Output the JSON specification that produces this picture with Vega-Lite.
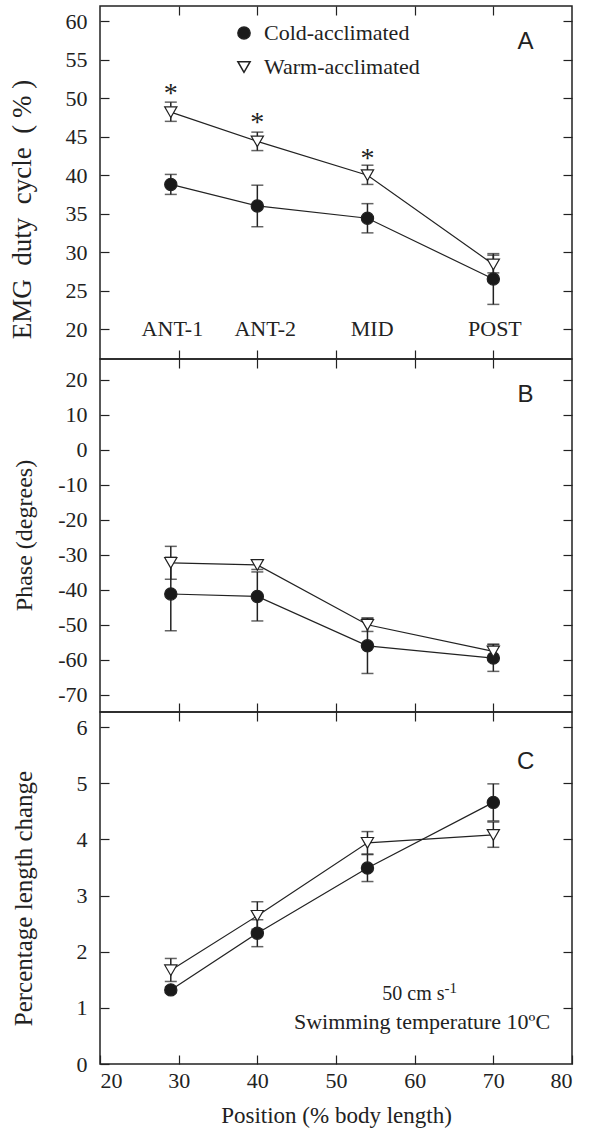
{
  "$schema": "https://vega.github.io/schema/vega-lite/v6.json",
  "padding": {"left": 7, "top": 4, "right": 5, "bottom": 5},
  "spacing": 0,
  "bounds": "flush",
  "config": {
    "view": {"stroke": "#222", "strokeWidth": 1.5},
    "font": "Liberation Serif",
    "axis": {"labelFont": "Liberation Serif", "titleFont": "Liberation Serif", "titleFontWeight": "normal", "labelColor": "#222", "titleColor": "#222", "tickColor": "#222", "tickWidth": 1.2, "domain": false, "grid": false}
  },
  "datasets": {
    "A": [
      {"group": "Cold-acclimated", "x": 29, "y": 38.8, "lo": 37.5, "hi": 40.1},
      {"group": "Cold-acclimated", "x": 40, "y": 36.0, "lo": 33.3, "hi": 38.7},
      {"group": "Cold-acclimated", "x": 54, "y": 34.4, "lo": 32.5, "hi": 36.3},
      {"group": "Cold-acclimated", "x": 70, "y": 26.5, "lo": 23.2, "hi": 29.8},
      {"group": "Warm-acclimated", "x": 29, "y": 48.2, "lo": 47.0, "hi": 49.5},
      {"group": "Warm-acclimated", "x": 40, "y": 44.4, "lo": 43.2, "hi": 45.6},
      {"group": "Warm-acclimated", "x": 54, "y": 40.0, "lo": 38.8, "hi": 41.3},
      {"group": "Warm-acclimated", "x": 70, "y": 28.4, "lo": 27.3, "hi": 29.6}
    ],
    "B": [
      {"group": "Cold-acclimated", "x": 29, "y": -41.2, "lo": -51.7, "hi": -30.7},
      {"group": "Cold-acclimated", "x": 40, "y": -41.9, "lo": -48.9, "hi": -34.9},
      {"group": "Cold-acclimated", "x": 54, "y": -56.0, "lo": -63.9, "hi": -48.1},
      {"group": "Cold-acclimated", "x": 70, "y": -59.5, "lo": -63.3, "hi": -55.7},
      {"group": "Warm-acclimated", "x": 29, "y": -32.3, "lo": -37.0, "hi": -27.6},
      {"group": "Warm-acclimated", "x": 40, "y": -32.9, "lo": -34.2, "hi": -31.6},
      {"group": "Warm-acclimated", "x": 54, "y": -50.0, "lo": -51.9, "hi": -48.1},
      {"group": "Warm-acclimated", "x": 70, "y": -57.6, "lo": -59.7, "hi": -55.5}
    ],
    "C": [
      {"group": "Cold-acclimated", "x": 29, "y": 1.32, "lo": 1.27, "hi": 1.37},
      {"group": "Cold-acclimated", "x": 40, "y": 2.33, "lo": 2.09, "hi": 2.57},
      {"group": "Cold-acclimated", "x": 54, "y": 3.49, "lo": 3.25, "hi": 3.73},
      {"group": "Cold-acclimated", "x": 70, "y": 4.66, "lo": 4.33, "hi": 4.99},
      {"group": "Warm-acclimated", "x": 29, "y": 1.67, "lo": 1.47, "hi": 1.88},
      {"group": "Warm-acclimated", "x": 40, "y": 2.64, "lo": 2.40, "hi": 2.89},
      {"group": "Warm-acclimated", "x": 54, "y": 3.94, "lo": 3.74, "hi": 4.14},
      {"group": "Warm-acclimated", "x": 70, "y": 4.08, "lo": 3.86, "hi": 4.31}
    ],
    "starsA": [
      {"x": 29, "y": 49.55, "t": "*"},
      {"x": 40, "y": 45.77, "t": "*"},
      {"x": 54, "y": 41.13, "t": "*"}
    ],
    "catsA": [
      {"x": 29.2, "y": 19.05, "t": "ANT-1"},
      {"x": 41.0, "y": 19.05, "t": "ANT-2"},
      {"x": 54.6, "y": 19.05, "t": "MID"},
      {"x": 70.2, "y": 19.05, "t": "POST"}
    ],
    "letterA": [{"x": 74.1, "y": 56.36, "t": "A"}],
    "letterB": [{"x": 74.1, "y": 13.54, "t": "B"}],
    "letterC": [{"x": 74.1, "y": 5.26, "t": "C"}],
    "speedC": [{"x": 55.88, "y": 1.146, "t": "50 cm s"}],
    "tempC": [{"x": 44.66, "y": 0.624, "t": "Swimming temperature 10ºC"}],
    "supC": [{"x": 63.8, "y": 1.27, "t": "-1"}]
  },
  "vconcat": [
    {
      "width": 472, "height": 353,
      "resolve": {"axis": {"x": "independent", "y": "independent"}},
      "layer": [
        {
          "data": {"name": "A"},
          "mark": {"type": "rule", "color": "#222", "strokeWidth": 1.5},
          "encoding": {
            "x": {"field": "x", "type": "quantitative", "scale": {"domain": [20, 80], "nice": false, "zero": false},
                  "axis": {"orient": "bottom", "values": [30, 40, 50, 60, 70], "labels": false, "tickSize": -9, "title": null}},
            "y": {"field": "lo", "type": "quantitative", "scale": {"domain": [16.1, 62], "nice": false, "zero": false},
                  "axis": {"orient": "left", "values": [20, 25, 30, 35, 40, 45, 50, 55, 60], "tickSize": -9, "labelPadding": 22, "labelFontSize": 22, "title": "EMG\u00a0 duty\u00a0 cycle\u00a0 (\u00a0%\u00a0)", "titleFontSize": 27, "titleX": -64, "titleY": 203}},
            "y2": {"field": "hi"}
          }
        },
        {
          "data": {"name": "A"},
          "mark": {"type": "tick", "orient": "horizontal", "size": 12, "thickness": 1.5, "color": "#222"},
          "encoding": {"x": {"field": "x", "type": "quantitative", "axis": null}, "y": {"field": "lo", "type": "quantitative", "axis": null}}
        },
        {
          "data": {"name": "A"},
          "mark": {"type": "tick", "orient": "horizontal", "size": 12, "thickness": 1.5, "color": "#222"},
          "encoding": {"x": {"field": "x", "type": "quantitative", "axis": null}, "y": {"field": "hi", "type": "quantitative", "axis": null}}
        },
        {
          "data": {"name": "A"},
          "mark": {"type": "line", "color": "#222", "strokeWidth": 1.2},
          "encoding": {
            "x": {"field": "x", "type": "quantitative", "axis": {"orient": "top", "values": [30, 40, 50, 60, 70], "labels": false, "tickSize": -9, "title": null}},
            "y": {"field": "y", "type": "quantitative", "axis": {"orient": "right", "values": [20, 25, 30, 35, 40, 45, 50, 55, 60], "labels": false, "tickSize": -9, "title": null}},
            "detail": {"field": "group"}
          }
        },
        {
          "data": {"name": "A"},
          "mark": {"type": "point", "filled": true, "size": 150, "stroke": "#222", "strokeWidth": 1.2, "opacity": 1},
          "encoding": {
            "x": {"field": "x", "type": "quantitative", "axis": null},
            "y": {"field": "y", "type": "quantitative", "axis": null},
            "shape": {"field": "group", "type": "nominal", "scale": {"domain": ["Cold-acclimated", "Warm-acclimated"], "range": ["circle", "triangle-down"]},
                      "legend": {"orient": "none", "legendX": 133, "legendY": 16, "title": null, "labelFont": "Liberation Serif", "labelFontSize": 22, "labelColor": "#222", "symbolSize": 150, "rowPadding": 12, "labelOffset": 9, "padding": 0,
                                 "encode": {"symbols": {"update": {"stroke": {"value": "#222"}, "strokeWidth": {"value": 1.2}, "opacity": {"value": 1}}}}}},
            "fill": {"field": "group", "type": "nominal", "scale": {"domain": ["Cold-acclimated", "Warm-acclimated"], "range": ["#1a1a1a", "white"]},
                     "legend": {"orient": "none", "legendX": 133, "legendY": 16, "title": null, "labelFont": "Liberation Serif", "labelFontSize": 22, "labelColor": "#222", "symbolSize": 150, "rowPadding": 12, "labelOffset": 9, "padding": 0,
                                "encode": {"symbols": {"update": {"stroke": {"value": "#222"}, "strokeWidth": {"value": 1.2}, "opacity": {"value": 1}}}}}}
          }
        },
        {
          "data": {"name": "starsA"},
          "mark": {"type": "text", "font": "Liberation Serif", "fontSize": 28, "color": "#222", "baseline": "alphabetic", "align": "center"},
          "encoding": {"x": {"field": "x", "type": "quantitative", "axis": null}, "y": {"field": "y", "type": "quantitative", "axis": null}, "text": {"field": "t"}}
        },
        {
          "data": {"name": "catsA"},
          "mark": {"type": "text", "font": "Liberation Serif", "fontSize": 22, "color": "#222", "baseline": "alphabetic", "align": "center"},
          "encoding": {"x": {"field": "x", "type": "quantitative", "axis": null}, "y": {"field": "y", "type": "quantitative", "axis": null}, "text": {"field": "t"}}
        },
        {
          "data": {"name": "letterA"},
          "mark": {"type": "text", "font": "Liberation Sans", "fontSize": 24, "color": "#222", "baseline": "alphabetic", "align": "center"},
          "encoding": {"x": {"field": "x", "type": "quantitative", "axis": null}, "y": {"field": "y", "type": "quantitative", "axis": null}, "text": {"field": "t"}}
        }
      ]
    },
    {
      "width": 472, "height": 353,
      "resolve": {"axis": {"x": "independent", "y": "independent"}, "scale": {"shape": "independent", "fill": "independent"}, "legend": {"shape": "independent", "fill": "independent"}},
      "layer": [
        {
          "data": {"name": "B"},
          "mark": {"type": "rule", "color": "#222", "strokeWidth": 1.5},
          "encoding": {
            "x": {"field": "x", "type": "quantitative", "scale": {"domain": [20, 80], "nice": false, "zero": false},
                  "axis": {"orient": "bottom", "values": [30, 40, 50, 60, 70], "labels": false, "tickSize": -9, "title": null}},
            "y": {"field": "lo", "type": "quantitative", "scale": {"domain": [-74.9, 25.9], "nice": false, "zero": false},
                  "axis": {"orient": "left", "values": [-70, -60, -50, -40, -30, -20, -10, 0, 10, 20], "labelExpr": "datum.value < 0 ? '-' + (-datum.value) : '' + datum.value", "tickSize": -9, "labelPadding": 22, "labelFontSize": 22, "title": "Phase (degrees)", "titleFontSize": 24, "titleX": -64, "titleY": 176}},
            "y2": {"field": "hi"}
          }
        },
        {
          "data": {"name": "B"},
          "mark": {"type": "tick", "orient": "horizontal", "size": 12, "thickness": 1.5, "color": "#222"},
          "encoding": {"x": {"field": "x", "type": "quantitative", "axis": null}, "y": {"field": "lo", "type": "quantitative", "axis": null}}
        },
        {
          "data": {"name": "B"},
          "mark": {"type": "tick", "orient": "horizontal", "size": 12, "thickness": 1.5, "color": "#222"},
          "encoding": {"x": {"field": "x", "type": "quantitative", "axis": null}, "y": {"field": "hi", "type": "quantitative", "axis": null}}
        },
        {
          "data": {"name": "B"},
          "mark": {"type": "line", "color": "#222", "strokeWidth": 1.2},
          "encoding": {
            "x": {"field": "x", "type": "quantitative", "axis": {"orient": "top", "values": [30, 40, 50, 60, 70], "labels": false, "tickSize": -9, "title": null}},
            "y": {"field": "y", "type": "quantitative", "axis": {"orient": "right", "values": [-70, -60, -50, -40, -30, -20, -10, 0, 10, 20], "labels": false, "tickSize": -9, "title": null}},
            "detail": {"field": "group"}
          }
        },
        {
          "data": {"name": "B"},
          "mark": {"type": "point", "filled": true, "size": 150, "stroke": "#222", "strokeWidth": 1.2, "opacity": 1},
          "encoding": {
            "x": {"field": "x", "type": "quantitative", "axis": null},
            "y": {"field": "y", "type": "quantitative", "axis": null},
            "shape": {"field": "group", "type": "nominal", "scale": {"domain": ["Cold-acclimated", "Warm-acclimated"], "range": ["circle", "triangle-down"]}, "legend": null},
            "fill": {"field": "group", "type": "nominal", "scale": {"domain": ["Cold-acclimated", "Warm-acclimated"], "range": ["#1a1a1a", "white"]}, "legend": null}
          }
        },
        {
          "data": {"name": "letterB"},
          "mark": {"type": "text", "font": "Liberation Sans", "fontSize": 24, "color": "#222", "baseline": "alphabetic", "align": "center"},
          "encoding": {"x": {"field": "x", "type": "quantitative", "axis": null}, "y": {"field": "y", "type": "quantitative", "axis": null}, "text": {"field": "t"}}
        }
      ]
    },
    {
      "width": 472, "height": 352,
      "resolve": {"axis": {"x": "independent", "y": "independent"}, "scale": {"shape": "independent", "fill": "independent"}, "legend": {"shape": "independent", "fill": "independent"}},
      "layer": [
        {
          "data": {"name": "C"},
          "mark": {"type": "rule", "color": "#222", "strokeWidth": 1.5},
          "encoding": {
            "x": {"field": "x", "type": "quantitative", "scale": {"domain": [20, 80], "nice": false, "zero": false},
                  "axis": {"orient": "bottom", "values": [20, 30, 40, 50, 60, 70, 80], "tickSize": -9, "labelPadding": 15, "labelFontSize": 22, "title": "Position (% body length)", "titleFontSize": 23, "titlePadding": 13}},
            "y": {"field": "lo", "type": "quantitative", "scale": {"domain": [0, 6.27], "nice": false, "zero": false},
                  "axis": {"orient": "left", "values": [0, 1, 2, 3, 4, 5, 6], "tickSize": -9, "labelPadding": 22, "labelFontSize": 22, "title": "Percentage length change", "titleFontSize": 25, "titleX": -64, "titleY": 186}},
            "y2": {"field": "hi"}
          }
        },
        {
          "data": {"name": "C"},
          "mark": {"type": "tick", "orient": "horizontal", "size": 12, "thickness": 1.5, "color": "#222"},
          "encoding": {"x": {"field": "x", "type": "quantitative", "axis": null}, "y": {"field": "lo", "type": "quantitative", "axis": null}}
        },
        {
          "data": {"name": "C"},
          "mark": {"type": "tick", "orient": "horizontal", "size": 12, "thickness": 1.5, "color": "#222"},
          "encoding": {"x": {"field": "x", "type": "quantitative", "axis": null}, "y": {"field": "hi", "type": "quantitative", "axis": null}}
        },
        {
          "data": {"name": "C"},
          "mark": {"type": "line", "color": "#222", "strokeWidth": 1.2},
          "encoding": {
            "x": {"field": "x", "type": "quantitative", "axis": {"orient": "top", "values": [30, 40, 50, 60, 70], "labels": false, "tickSize": -9, "title": null}},
            "y": {"field": "y", "type": "quantitative", "axis": {"orient": "right", "values": [1, 2, 3, 4, 5, 6], "labels": false, "tickSize": -9, "title": null}},
            "detail": {"field": "group"}
          }
        },
        {
          "data": {"name": "C"},
          "mark": {"type": "point", "filled": true, "size": 150, "stroke": "#222", "strokeWidth": 1.2, "opacity": 1},
          "encoding": {
            "x": {"field": "x", "type": "quantitative", "axis": null},
            "y": {"field": "y", "type": "quantitative", "axis": null},
            "shape": {"field": "group", "type": "nominal", "scale": {"domain": ["Cold-acclimated", "Warm-acclimated"], "range": ["circle", "triangle-down"]}, "legend": null},
            "fill": {"field": "group", "type": "nominal", "scale": {"domain": ["Cold-acclimated", "Warm-acclimated"], "range": ["#1a1a1a", "white"]}, "legend": null}
          }
        },
        {
          "data": {"name": "letterC"},
          "mark": {"type": "text", "font": "Liberation Sans", "fontSize": 24, "color": "#222", "baseline": "alphabetic", "align": "center"},
          "encoding": {"x": {"field": "x", "type": "quantitative", "axis": null}, "y": {"field": "y", "type": "quantitative", "axis": null}, "text": {"field": "t"}}
        },
        {
          "data": {"name": "speedC"},
          "mark": {"type": "text", "font": "Liberation Serif", "fontSize": 20, "color": "#222", "baseline": "alphabetic", "align": "left"},
          "encoding": {"x": {"field": "x", "type": "quantitative", "axis": null}, "y": {"field": "y", "type": "quantitative", "axis": null}, "text": {"field": "t"}}
        },
        {
          "data": {"name": "tempC"},
          "mark": {"type": "text", "font": "Liberation Serif", "fontSize": 22, "color": "#222", "baseline": "alphabetic", "align": "left"},
          "encoding": {"x": {"field": "x", "type": "quantitative", "axis": null}, "y": {"field": "y", "type": "quantitative", "axis": null}, "text": {"field": "t"}}
        },
        {
          "data": {"name": "supC"},
          "mark": {"type": "text", "font": "Liberation Serif", "fontSize": 15, "color": "#222", "baseline": "alphabetic", "align": "left"},
          "encoding": {"x": {"field": "x", "type": "quantitative", "axis": null}, "y": {"field": "y", "type": "quantitative", "axis": null}, "text": {"field": "t"}}
        }
      ]
    }
  ]
}
